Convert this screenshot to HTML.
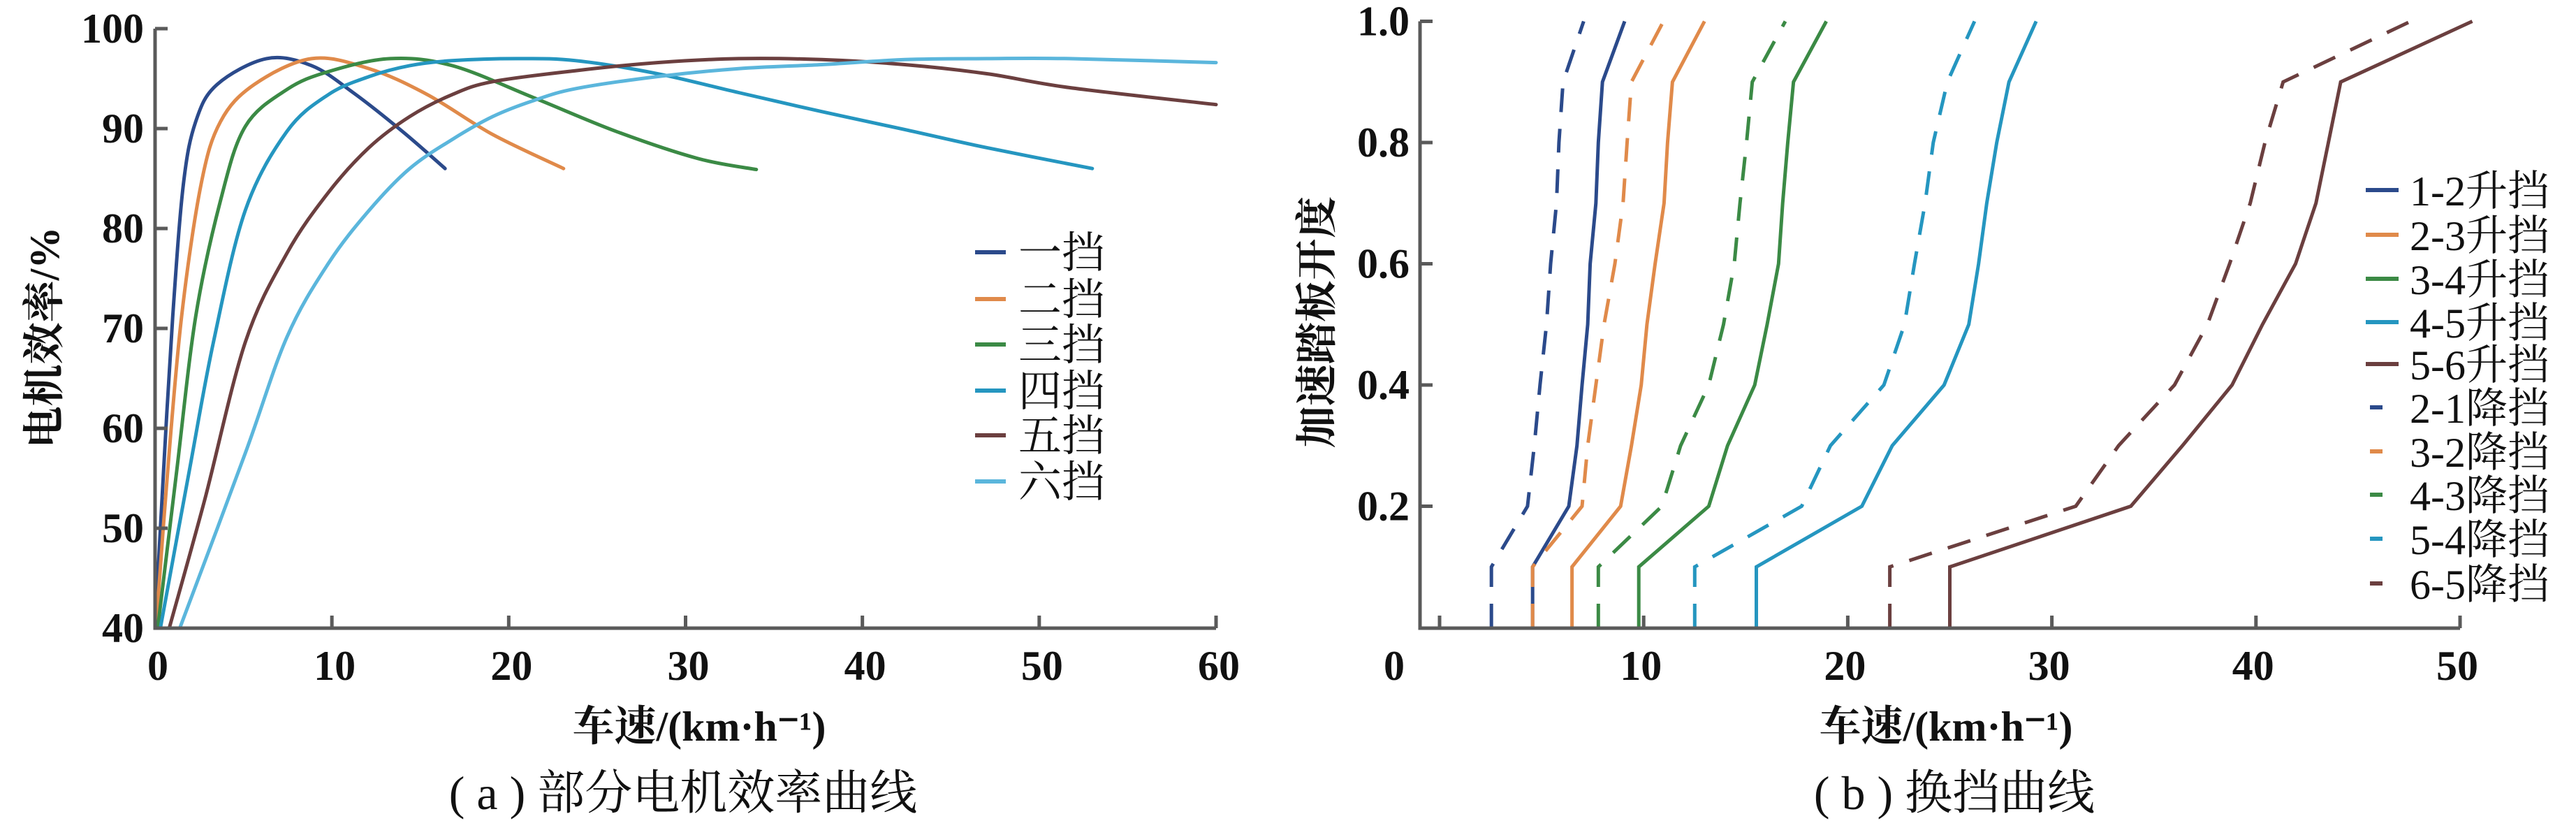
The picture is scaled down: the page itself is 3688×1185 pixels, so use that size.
<!DOCTYPE html>
<html><head><meta charset="utf-8">
<style>
html,body{margin:0;padding:0;background:#fff;}
svg{display:block;}
text{font-family:"Liberation Serif","Noto Serif CJK SC","Noto Sans CJK SC",serif;fill:#111;}
</style></head>
<body>
<svg id="chart" width="3688" height="1185" viewBox="0 0 3688 1185" xmlns="http://www.w3.org/2000/svg">
<g id="pa"></g>
<g id="pb"></g>
</svg>
<script>
// ---------- Panel A data ----------
const gearNames = ['一挡','二挡','三挡','四挡','五挡','六挡'];
const gearColors = ['#2b4a8b','#e08a4a','#3b8a45','#2596c0','#6b3f3f','#5bb6dc'];
const g1x = [0,0.47,1.0,1.6,2.3,3.5,6.3,8.85,11.2,14,16.4];
const g1y = [40,55.4,71.2,84.4,90.7,94.4,97,96.3,93.6,89.7,86];
const g2x = [0.05,0.7,1.5,2.6,3.7,5.6,8.85,12.1,15.4,19.1,23.1];
const g2y = [40,55.4,71.2,84.4,90.7,94.4,97,96,93.4,89.4,86];
const g3x = [0.15,1.2,2.3,3.7,5.1,7.45,9.8,13.3,16.8,21.4,26.1,30.7,34];
const g3y = [40,55.4,71.2,82.8,90.2,93.9,95.7,97,96.3,93.1,89.7,87,85.9];
const g4x = [0.3,1.9,3.3,5.1,7.45,9.8,12.1,14.4,16.8,20.5,23.8,28.4,33,37.7,42.4,47,53];
const g4y = [40,55.4,68.6,81.8,89.7,93.4,95.2,96.3,96.8,97,96.8,95.5,93.6,91.7,89.9,88.1,86];
const g5x = [0.8,2.8,5.1,7.45,9.8,12.1,14.4,16.8,19.1,23.8,28.4,33,37.7,42.4,47,51.7,60];
const g5y = [40,52.8,68.6,77.5,83.6,88.1,91.2,93.4,94.7,95.8,96.6,97,96.9,96.4,95.5,94.1,92.4];
const g6x = [1.4,5.1,7.45,9.8,12.1,14.4,16.8,19.1,21.4,23.8,28.4,33,37.7,42.4,47,51.7,60];
const g6y = [40,57.5,69.1,76.5,81.8,86,88.9,91.2,92.8,94,95.2,96,96.4,96.9,97,97,96.6];
const aXTicks = [0,10,20,30,40,50,60];
const aYTicks = [40,50,60,70,80,90,100];

// ---------- Panel B data ----------
const pedal = [0,0.1,0.2,0.3,0.4,0.5,0.6,0.7,0.8,0.9,1.0];
const up12 = [4.56,4.56,6.33,6.73,6.98,7.26,7.38,7.66,7.78,7.98,9.07];
const up23 = [6.49,6.49,8.87,9.4,9.88,10.16,10.56,11.0,11.17,11.41,12.98];
const up34 = [9.76,9.76,13.19,14.11,15.44,16.05,16.61,16.81,17.06,17.34,18.95];
const up45 = [15.52,15.52,20.69,22.18,24.72,25.93,26.41,26.81,27.3,27.9,29.23];
const up56 = [25,25,33.87,36.4,38.83,40.32,41.94,42.94,43.55,44.15,50.6];
const dn21 = [2.54,2.54,4.31,4.64,4.92,5.24,5.44,5.73,5.85,6.05,7.06];
const dn32 = [4.56,4.56,6.98,7.26,7.66,8.06,8.59,8.99,9.19,9.4,10.97];
const dn43 = [7.78,7.78,10.89,11.81,13.19,13.91,14.44,14.72,15.04,15.32,16.94];
const dn54 = [12.5,12.5,17.74,19.15,21.77,22.78,23.27,23.79,24.19,24.88,26.21];
const dn65 = [22.06,22.06,31.17,33.27,36.01,37.62,38.71,39.72,40.44,41.33,47.58];
const shiftNames = ['1-2升挡','2-3升挡','3-4升挡','4-5升挡','5-6升挡','2-1降挡','3-2降挡','4-3降挡','5-4降挡','6-5降挡'];
const bXTicks = [0,10,20,30,40,50];
const bYTicks = [0.2,0.4,0.6,0.8,1.0];

const NS='http://www.w3.org/2000/svg';
function mk(parent,tag,attrs,txt){const e=document.createElementNS(NS,tag);for(const k in attrs)e.setAttribute(k,attrs[k]);if(txt!==undefined)e.textContent=txt;parent.appendChild(e);return e;}
const AX='#5a5a5a';

// ===== Panel A =====
const pa=document.getElementById('pa');
const ax=v=>222+(v-0)*(1741-222)/60;
const ay=v=>899-(v-40)*(899-41)/60;
function smooth(px,py){
  let d='M'+px[0].toFixed(1)+','+py[0].toFixed(1);
  for(let i=0;i<px.length-1;i++){
    const x0=px[Math.max(i-1,0)],y0=py[Math.max(i-1,0)],x1=px[i],y1=py[i],x2=px[i+1],y2=py[i+1],x3=px[Math.min(i+2,px.length-1)],y3=py[Math.min(i+2,px.length-1)];
    d+=' C'+(x1+(x2-x0)/6).toFixed(1)+','+(y1+(y2-y0)/6).toFixed(1)+' '+(x2-(x3-x1)/6).toFixed(1)+','+(y2-(y3-y1)/6).toFixed(1)+' '+x2.toFixed(1)+','+y2.toFixed(1);
  }
  return d;
}
const gxs=[g1x,g2x,g3x,g4x,g5x,g6x], gys=[g1y,g2y,g3y,g4y,g5y,g6y];
for(let i=0;i<6;i++){
  const p=mk(pa,'path',{d:smooth(gxs[i].map(ax),gys[i].map(ay)),fill:'none',stroke:gearColors[i],'stroke-width':5,'stroke-linecap':'round','stroke-linejoin':'round'});
  
  
}
// axes
let e=mk(pa,'path',{d:'M'+ax(0)+','+ay(100)+' V'+ay(40)+' H'+ax(60),fill:'none',stroke:AX,'stroke-width':5});


aYTicks.forEach(t=>{
  const l=mk(pa,'line',{x1:ax(0),x2:ax(0)+18,y1:ay(t),y2:ay(t),stroke:AX,'stroke-width':5});
  
  
  const tx=mk(pa,'text',{x:206,y:ay(t)+20,'font-size':60,'font-weight':'bold','text-anchor':'end'},String(t));
  
  
});
aXTicks.forEach(t=>{
  const l=mk(pa,'line',{x1:ax(t),x2:ax(t),y1:ay(40),y2:ay(40)-18,stroke:AX,'stroke-width':5});
  
  
  const tx=mk(pa,'text',{x:ax(t)+4,y:973,'font-size':60,'font-weight':'bold','text-anchor':'middle'},String(t));
  
  
});
// legend a
const legAY=[361,428,493,559,623,689];
for(let i=0;i<6;i++){
  const l=mk(pa,'line',{x1:1396,x2:1440,y1:legAY[i],y2:legAY[i],stroke:gearColors[i],'stroke-width':6});
  
  
  const t=mk(pa,'text',{x:1458,y:legAY[i]+22,'font-size':62},gearNames[i]);
  
  
}
e=mk(pa,'text',{x:0,y:0,'font-size':60,'font-weight':'bold','text-anchor':'middle',transform:'translate(84,483) rotate(-90)'},'电机效率/%');


e=mk(pa,'text',{x:1001,y:1060,'font-size':60,'font-weight':'bold','text-anchor':'middle'},'车速/(km·h⁻¹)');


e=mk(pa,'text',{x:978,y:1158,'font-size':68,'text-anchor':'middle'},'( a ) 部分电机效率曲线');



// ===== Panel B =====
const pb=document.getElementById('pb');
const bx=v=>2061+v*(3522-2061)/50;
const by=v=>898-v*867.5;
const ups=[up12,up23,up34,up45,up56], dns=[dn21,dn32,dn43,dn54,dn65];
const cols5=['#2b4a8b','#e08a4a','#3b8a45','#2596c0','#6b3f3f'];
for(let i=0;i<5;i++){
  const pd=dns[i].map((v,j)=>bx(v).toFixed(1)+','+by(pedal[j]).toFixed(1)).join(' ');
  const d=mk(pb,'polyline',{points:pd,fill:'none',stroke:cols5[i],'stroke-width':5,'stroke-dasharray':'34,24'});
  
  
  const pu=ups[i].map((v,j)=>bx(v).toFixed(1)+','+by(pedal[j]).toFixed(1)).join(' ');
  const u=mk(pb,'polyline',{points:pu,fill:'none',stroke:cols5[i],'stroke-width':5});
  
  
}
e=mk(pb,'path',{d:'M2033,'+by(1.0)+' V899 H3522',fill:'none',stroke:AX,'stroke-width':5});


bYTicks.forEach(t=>{
  const l=mk(pb,'line',{x1:2033,x2:2051,y1:by(t),y2:by(t),stroke:AX,'stroke-width':5});
  
  
  const tx=mk(pb,'text',{x:2018,y:by(t)+20,'font-size':60,'font-weight':'bold','text-anchor':'end'},t.toFixed(1));
  
  
});
bXTicks.forEach(t=>{
  const l=mk(pb,'line',{x1:bx(t),x2:bx(t),y1:899,y2:881,stroke:AX,'stroke-width':5});
  
  
  const lx = t===0 ? 1996 : bx(t)-4;
  const tx=mk(pb,'text',{x:lx,y:973,'font-size':60,'font-weight':'bold','text-anchor':'middle'},String(t));
  
  
});
const legBY=[272,336,399,461,521,583,646,708,771,835];
for(let i=0;i<10;i++){
  const c=cols5[i%5];
  const l = i<5 ? mk(pb,'line',{x1:3387,x2:3434,y1:legBY[i],y2:legBY[i],stroke:c,'stroke-width':6})
                : mk(pb,'line',{x1:3393,x2:3411,y1:legBY[i],y2:legBY[i],stroke:c,'stroke-width':6});
  
  
  const t=mk(pb,'text',{x:3450,y:legBY[i]+22,'font-size':60},shiftNames[i]);
  
  
}
e=mk(pb,'text',{x:0,y:0,'font-size':60,'font-weight':'bold','text-anchor':'middle',transform:'translate(1906,461) rotate(-90)'},'加速踏板开度');


e=mk(pb,'text',{x:2786,y:1060,'font-size':60,'font-weight':'bold','text-anchor':'middle'},'车速/(km·h⁻¹)');


e=mk(pb,'text',{x:2798,y:1158,'font-size':68,'text-anchor':'middle'},'( b ) 换挡曲线');


</script>
</body></html>
